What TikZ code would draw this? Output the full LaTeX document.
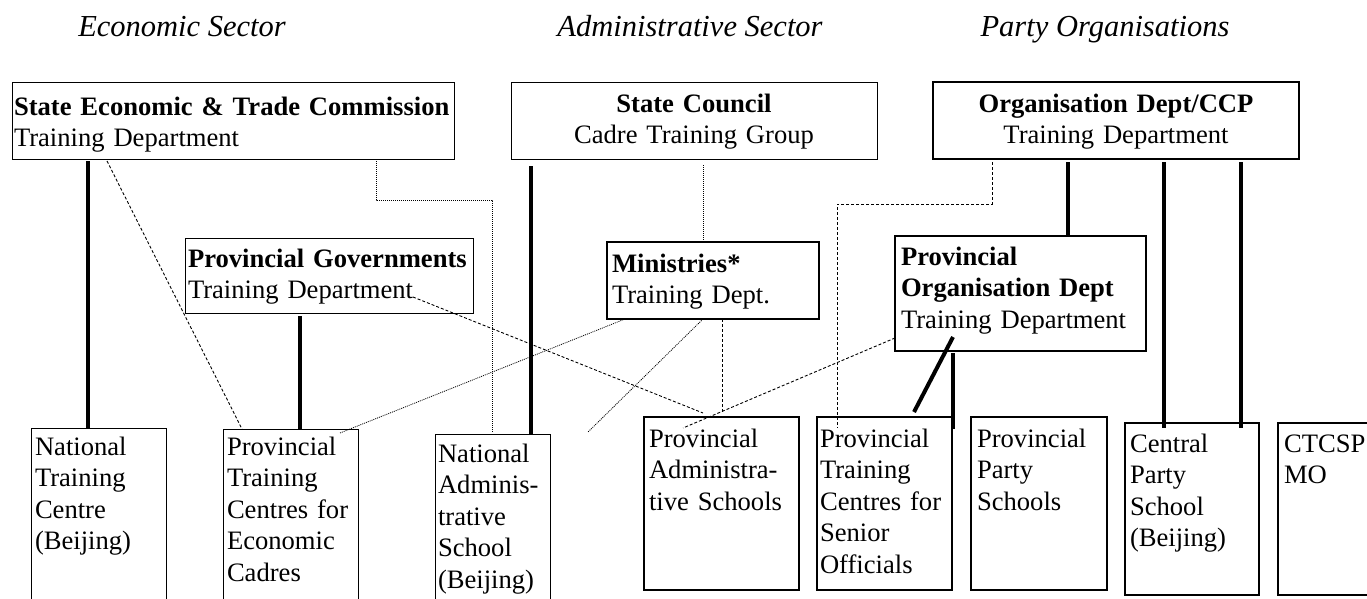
\documentclass[tikz,border=0pt]{standalone}
\usepackage{fontspec}
\setmainfont{Liberation Serif}
\tikzstyle{thin-box}=[draw=black,line width=1pt,inner ysep=0pt,outer sep=0pt,anchor=north west,align=left,font=\fontsize{26.6}{31.5}\selectfont]
\tikzstyle{thick-box}=[thin-box,line width=2pt]
\tikzstyle{head-node}=[font=\fontsize{30.5}{36}\selectfont\itshape,anchor=base,inner sep=0pt]
\tikzstyle{thick-line}=[draw=black,line width=4pt]
\tikzstyle{dash-line}=[draw=black,line width=0.9pt,dash pattern=on 3pt off 2pt]
\tikzstyle{dot-line}=[draw=black,line width=0.8pt,dash pattern=on 1pt off 1pt]

\begin{document}
\begin{tikzpicture}[x=1pt,y=-1pt]
	\useasboundingbox (0,0) rectangle (1367,598);
	\clip (0,0) rectangle (1367,598);

	\begin{scope}
	\node (econ)[head-node] at (182,36) {Economic Sector};
	\node (admin)[head-node] at (690,36) {Administrative Sector};
	\node (party)[head-node] at (1105,36) {Party Organisations};
	\end{scope}

	\begin{scope}
	\node (setc)[thin-box,inner xsep=2pt,text width=438pt,text height=33pt,text depth=44pt] at (12,82)
		{\textbf{State Economic \& Trade Commission}\\Training Department};
	\node (sc)[thin-box,align=center,inner xsep=0pt,text width=366pt,text height=30pt,text depth=47pt] at (511,82)
		{\textbf{State Council}\\Cadre Training Group};
	\node (org)[thick-box,align=center,inner xsep=0pt,text width=366pt,text height=30pt,text depth=47pt] at (933,82)
		{\textbf{Organisation Dept/CCP}\\Training Department};

	\node (pg)[thin-box,inner xsep=3pt,text width=282pt,text height=29pt,text depth=46pt] at (185,238)
		{\textbf{Provincial Governments}\\Training Department};
	\node (min)[thick-box,inner xsep=5pt,text width=202pt,text height=30pt,text depth=47pt] at (607,242)
		{\textbf{Ministries*}\\Training Dept.};
	\node (pod)[thick-box,inner xsep=6pt,text width=239pt,text height=29pt,text depth=86pt] at (895,236)
		{\textbf{Provincial}\\\textbf{Organisation Dept}\\Training Department};
	\end{scope}

	\begin{scope}
	\node (ntc)[thin-box,inner xsep=4pt,text width=127pt,text height=27pt,text depth=163pt] at (31,428)
		{National\\Training\\Centre\\(Beijing)};
	\node (ptc)[thin-box,inner xsep=4pt,text width=127pt,text height=26pt,text depth=164pt] at (223,429)
		{Provincial\\Training\\Centres for\\Economic\\Cadres};
	\node (nas)[thin-box,inner xsep=3pt,text width=109pt,text height=28pt,text depth=162pt] at (435,434)
		{National\\Adminis-\\trative\\School\\(Beijing)};
	\node (pas)[thick-box,inner xsep=5pt,text width=145pt,text height=30pt,text depth=143pt] at (644,417)
		{Provincial\\Administra-\\tive Schools};
	\node (ptcso)[thick-box,inner xsep=3pt,text width=129pt,text height=30pt,text depth=143pt] at (817,417)
		{Provincial\\Training\\Centres for\\Senior\\Officials};
	\node (pps)[thick-box,inner xsep=6pt,text width=124pt,text height=30pt,text depth=143pt] at (971,417)
		{Provincial\\Party\\Schools};
	\node (cps)[thick-box,inner xsep=5pt,text width=124pt,text height=29pt,text depth=143pt] at (1125,423)
		{Central\\Party\\School\\(Beijing)};
	\node (ctcsp)[thick-box,inner xsep=6pt,text width=88pt,text height=29pt,text depth=143pt] at (1278,423)
		{CTCSP\\MO};
	\coordinate (min-end) at (588,432);
	\end{scope}

	% solid lines
	\begin{scope}[every path/.style=thick-line]
	\path ([shift={(76,2)}]setc.south west) -- ([shift={(57,0)}]ntc.north west);
	\path ([shift={(115,3)}]pg.south west) -- ([shift={(77,0)}]ptc.north west);
	\path ([shift={(20,7)}]sc.south west) -- ([shift={(96,0)}]nas.north west);
	\path ([shift={(135,3)}]org.south west) -- ([shift={(173,0)}]pod.north west);
	\path ([shift={(231,3)}]org.south west) -- ([shift={(39,5)}]cps.north west);
	\path ([shift={(308,3)}]org.south west) -- ([shift={(116,5)}]cps.north west);
	\path ([shift={(58,-14)}]pod.south west) -- ([shift={(97,-5)}]ptcso.north west);
	\path ([shift={(58,2)}]pod.south west) -- ([shift={(1,12)}]ptcso.north east);
	\end{scope}

	% dashed lines
	\begin{scope}[every path/.style=dash-line]
	\path ([shift={(95,2)}]setc.south west) -- ([shift={(19,0)}]ptc.north west);
	\path ([shift={(228,-16)}]pg.south west) -- ([shift={(59,-4)}]pas.north west);
	\path ([shift={(0,-13)}]pod.south west) -- ([shift={(39,11)}]pas.north west);
	\path ([shift={(115,0)}]min.south west) -- ([shift={(78,-4)}]pas.north west);
	\path ([shift={(59,3)}]org.south west) -- ++(0,42) -| ([shift={(20,11)}]ptcso.north west);
	\end{scope}

	% dotted lines
	\begin{scope}[every path/.style=dot-line]
	\path ([shift={(364,2)}]setc.south west) -- ++(0,39) -| ([shift={(57,-1)}]nas.north west);
	\path ([shift={(192,6)}]sc.south west) -- ([shift={(96,0)}]min.north west);
	\path ([shift={(18,0)}]min.south west) -- ([shift={(-18,4)}]ptc.north east);
	\path ([shift={(96,0)}]min.south west) -- (min-end);
	\end{scope}
\end{tikzpicture}
\end{document}
